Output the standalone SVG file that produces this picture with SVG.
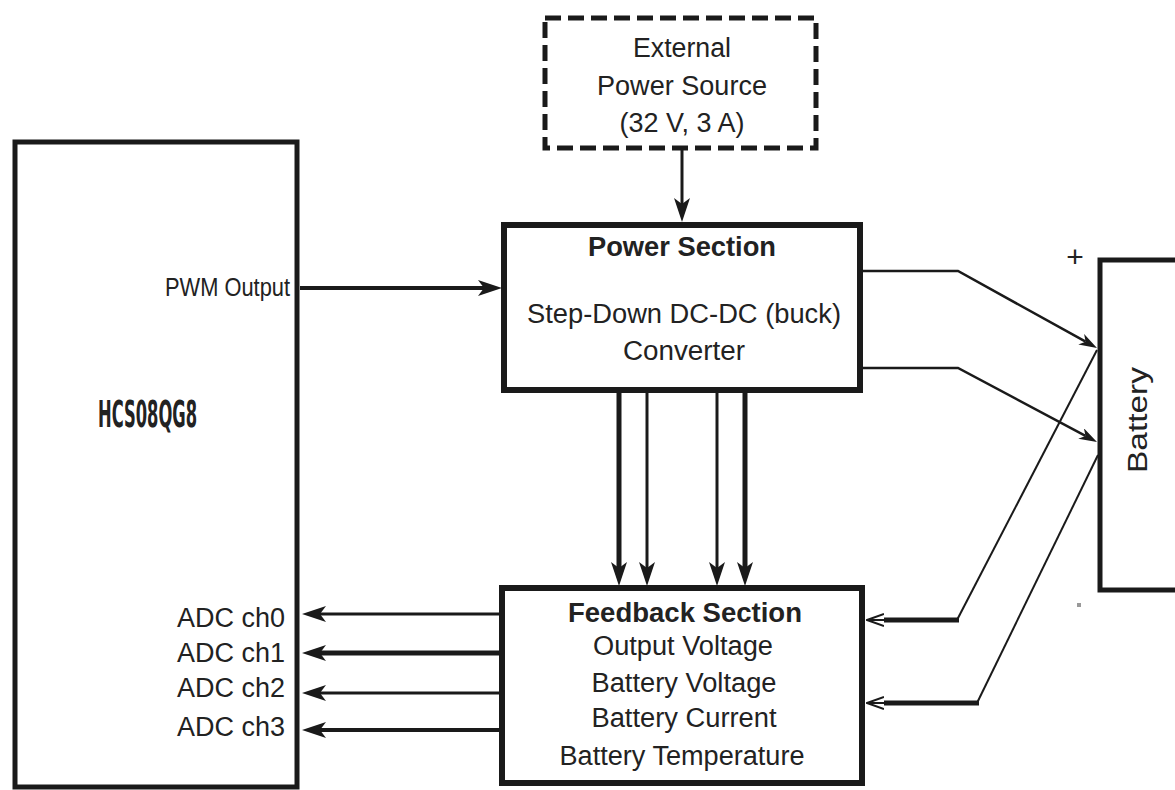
<svg xmlns="http://www.w3.org/2000/svg" width="1175" height="790" viewBox="0 0 1175 790">
<style>
  .box{fill:#fff;stroke:#1a1a1a;stroke-width:5}
  .dash{fill:#fff;stroke:#1a1a1a;stroke-width:5;stroke-dasharray:16 7}
  .t{font-family:"Liberation Sans",Arial,sans-serif;fill:#222;font-size:27px}
  .b{font-weight:bold}
  .w{fill:none;stroke:#1a1a1a;stroke-linejoin:miter}
</style>
<defs>
  <marker id="ah" viewBox="0 0 24 16" refX="6" refY="8" markerWidth="24" markerHeight="16" markerUnits="userSpaceOnUse" orient="auto">
    <path d="M24,8 L0,0 L6,8 L0,16 Z" fill="#1a1a1a"/>
  </marker>
  <marker id="ahs" viewBox="0 0 18 12" refX="5" refY="6" markerWidth="18" markerHeight="12" markerUnits="userSpaceOnUse" orient="auto">
    <path d="M18,6 L0,0 L5,6 L0,12 Z" fill="#1a1a1a"/>
  </marker>
  <marker id="ao" viewBox="0 0 18 14" refX="0" refY="7" markerWidth="18" markerHeight="14" markerUnits="userSpaceOnUse" orient="auto">
    <path d="M0,1 L17,7 L0,13 M0,7 L17,7" fill="none" stroke="#1a1a1a" stroke-width="2"/>
  </marker>
</defs>
<rect width="1175" height="790" fill="#fff"/>

<g id="mcu">
  <rect class="box" x="15" y="142" width="282" height="645"/>
  <text class="t b" x="98" y="427" style="font-family:'Liberation Sans Narrow','DejaVu Sans Condensed',sans-serif;font-size:37px" textLength="99" lengthAdjust="spacingAndGlyphs">HCS08QG8</text>
  <text class="t" x="290" y="296" text-anchor="end" style="font-size:25px" textLength="125" lengthAdjust="spacingAndGlyphs">PWM Output</text>
  <text class="t" x="285" y="627" text-anchor="end" textLength="108" lengthAdjust="spacingAndGlyphs">ADC ch0</text>
  <text class="t" x="285" y="662" text-anchor="end" textLength="108" lengthAdjust="spacingAndGlyphs">ADC ch1</text>
  <text class="t" x="285" y="697" text-anchor="end" textLength="108" lengthAdjust="spacingAndGlyphs">ADC ch2</text>
  <text class="t" x="285" y="736" text-anchor="end" textLength="108" lengthAdjust="spacingAndGlyphs">ADC ch3</text>
</g>

<g id="ext">
  <rect class="dash" x="545" y="18" width="271" height="130"/>
  <text class="t" x="682" y="57" text-anchor="middle" textLength="98" lengthAdjust="spacingAndGlyphs">External</text>
  <text class="t" x="682" y="95" text-anchor="middle" textLength="170" lengthAdjust="spacingAndGlyphs">Power Source</text>
  <text class="t" x="682" y="132" text-anchor="middle" textLength="125" lengthAdjust="spacingAndGlyphs">(32 V, 3 A)</text>
</g>

<g id="power">
  <rect class="box" x="504" y="225" width="356" height="165" style="stroke-width:6"/>
  <text class="t b" x="682" y="256" text-anchor="middle" textLength="188" lengthAdjust="spacingAndGlyphs">Power Section</text>
  <text class="t" x="684" y="323" text-anchor="middle" textLength="314" lengthAdjust="spacingAndGlyphs">Step-Down DC-DC (buck)</text>
  <text class="t" x="684" y="360" text-anchor="middle" textLength="122" lengthAdjust="spacingAndGlyphs">Converter</text>
</g>

<g id="feedback">
  <rect class="box" x="502" y="588" width="360" height="195" style="stroke-width:6"/>
  <text class="t b" x="685" y="622" text-anchor="middle" textLength="234" lengthAdjust="spacingAndGlyphs">Feedback Section</text>
  <text class="t" x="683" y="655" text-anchor="middle" textLength="180" lengthAdjust="spacingAndGlyphs">Output Voltage</text>
  <text class="t" x="684" y="692" text-anchor="middle" textLength="185" lengthAdjust="spacingAndGlyphs">Battery Voltage</text>
  <text class="t" x="684" y="727" text-anchor="middle" textLength="185" lengthAdjust="spacingAndGlyphs">Battery Current</text>
  <text class="t" x="682" y="765" text-anchor="middle" textLength="245" lengthAdjust="spacingAndGlyphs">Battery Temperature</text>
</g>

<g id="battery">
  <rect class="box" x="1100" y="260" width="90" height="330"/>
  <text class="t" transform="translate(1147,420) rotate(-90)" text-anchor="middle" textLength="106" lengthAdjust="spacingAndGlyphs">Battery</text>
  <text class="t" x="1075" y="267" text-anchor="middle" style="font-size:30px">+</text>
  <rect x="1077" y="603" width="4" height="4" fill="#999"/>
</g>

<g id="connectors">
  <path class="w" d="M300,288 H484" stroke-width="4" marker-end="url(#ah)"/>
  <path class="w" d="M682,150 V204" stroke-width="3" marker-end="url(#ah)"/>
  <path class="w" d="M619,393 V568" stroke-width="5" marker-end="url(#ah)"/>
  <path class="w" d="M647,393 V568" stroke-width="3" marker-end="url(#ah)"/>
  <path class="w" d="M717,393 V568" stroke-width="3" marker-end="url(#ah)"/>
  <path class="w" d="M745,393 V568" stroke-width="5" marker-end="url(#ah)"/>
  <path class="w" d="M499,614 H320" stroke-width="3" marker-end="url(#ah)"/>
  <path class="w" d="M499,653 H320" stroke-width="5" marker-end="url(#ah)"/>
  <path class="w" d="M499,693 H320" stroke-width="3" marker-end="url(#ah)"/>
  <path class="w" d="M499,730 H320" stroke-width="4" marker-end="url(#ah)"/>
  <path class="w" d="M863,271 H958 L1085.6,341.7" stroke-width="2.5" marker-end="url(#ahs)"/>
  <path class="w" d="M863,368 H958 L1085.5,435.9" stroke-width="2.5" marker-end="url(#ahs)"/>
  <path class="w" d="M1097,350 L957,620" stroke-width="2"/>
  <path class="w" d="M1098,455 L977,703" stroke-width="2"/>
  <path class="w" d="M959,620 H884" stroke-width="5" marker-end="url(#ao)"/>
  <path class="w" d="M979,703 H884" stroke-width="5" marker-end="url(#ao)"/>
</g>
</svg>
